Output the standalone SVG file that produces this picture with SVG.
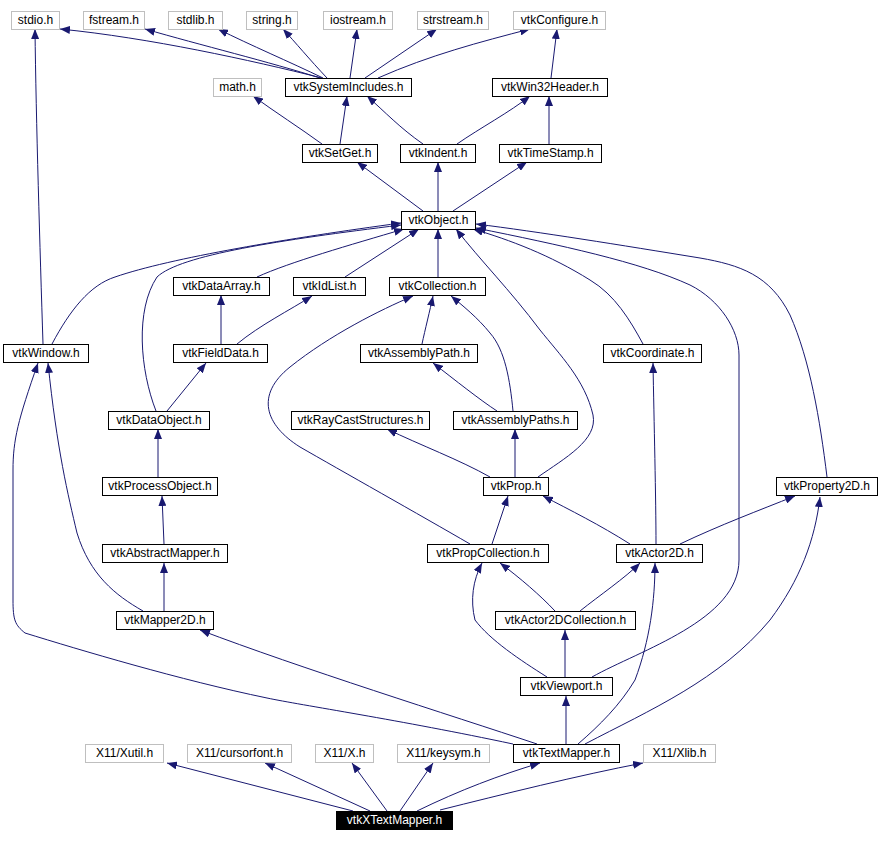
<svg xmlns="http://www.w3.org/2000/svg" width="880" height="842" viewBox="0 0 880 842">
<style>
.n rect{fill:#fff;stroke:#000;stroke-width:1}
.g rect{fill:#fff;stroke:#bfbfbf;stroke-width:1}
text{font-family:"Liberation Sans",Arial,sans-serif;font-size:12px;text-anchor:middle;fill:#000}
.e path{fill:none;stroke:#191970;stroke-width:1;marker-end:url(#a)}
#vtkXTextMapper rect{fill:#000;stroke:#000}
#vtkXTextMapper text{fill:#fff}
</style>
<defs>
<marker id="a" viewBox="0 0 10 8" refX="10" refY="4" markerWidth="10" markerHeight="8" markerUnits="userSpaceOnUse" orient="auto"><path d="M0,0 L10,4 L0,8 z" fill="#191970"/></marker>
</defs>
<rect width="880" height="842" fill="#fff"/>
<g class="e">
<path d="M322,78 C250,60 150,38 60,29"/>
<path d="M320,78 C270,62 200,45 145,29"/>
<path d="M323,78 C290,62 250,45 218,29"/>
<path d="M327,78 C310,60 295,42 283,29"/>
<path d="M350,78 L357,29"/>
<path d="M365,78 L437,29"/>
<path d="M378,78 C430,55 480,42 530,29"/>
<path d="M551,78 L557,29"/>
<path d="M43,344 C40,250 36,120 35,29"/>
<path d="M322,144 C300,128 275,112 253,96"/>
<path d="M340,144 L347,96"/>
<path d="M423,144 C400,128 385,112 367,96"/>
<path d="M457,144 C480,128 510,112 530,96"/>
<path d="M549,144 L549,96"/>
<path d="M423,211 L357,162"/>
<path d="M438,211 L438,162"/>
<path d="M453,211 L527,162"/>
<path d="M52,344 C70,310 90,285 115,277 C170,258 290,238 401,223"/>
<path d="M156,411 C140,370 135,310 157,277 C180,255 280,240 401,225"/>
<path d="M257,277 C290,262 350,245 404,229"/>
<path d="M345,277 L419,229"/>
<path d="M438,277 L438,229"/>
<path d="M538,477 C565,458 598,440 593,415 C585,380 560,355 540,330 C510,290 480,260 456,229"/>
<path d="M643,344 C630,320 615,295 590,280 C550,255 510,240 473,229"/>
<path d="M827,477 C820,420 810,360 790,315 C770,275 740,265 700,258 C620,245 540,232 476,224"/>
<path d="M592,677 C640,650 739,620 739,560 L739,355 C739,330 720,300 690,285 C640,262 560,245 476,228"/>
<path d="M221,344 L221,295"/>
<path d="M237,344 C260,325 290,310 312,296"/>
<path d="M167,411 L206,363"/>
<path d="M422,344 C425,330 430,310 433,296"/>
<path d="M513,411 C510,380 505,350 490,333 C478,318 462,305 451,296"/>
<path d="M497,411 C480,400 455,380 433,363"/>
<path d="M470,544 C420,515 340,470 300,447 C265,425 255,395 290,367 C330,335 380,310 413,296"/>
<path d="M490,477 C460,460 420,445 387,429"/>
<path d="M515,477 L515,429"/>
<path d="M158,477 L158,429"/>
<path d="M164,544 L162,496"/>
<path d="M164,611 L164,563"/>
<path d="M143,611 C115,595 90,575 77,533 C68,495 57,450 48,363"/>
<path d="M513,744 C400,720 300,705 267,698 C180,680 80,650 25,633 C15,625 13,620 13,600 L13,470 C13,440 18,420 38,363"/>
<path d="M537,744 C450,715 300,668 200,630"/>
<path d="M492,544 L508,496"/>
<path d="M630,544 C600,525 570,510 543,496"/>
<path d="M656,544 C656,500 654,420 653,363"/>
<path d="M680,544 C720,525 760,510 795,496"/>
<path d="M555,611 C540,595 520,578 500,563"/>
<path d="M580,611 C600,595 625,578 640,563"/>
<path d="M547,677 C520,660 490,640 475,620 C470,600 473,580 482,563"/>
<path d="M565,677 L565,630"/>
<path d="M566,744 L566,696"/>
<path d="M578,744 C600,725 620,705 635,680 C650,640 655,600 655,563"/>
<path d="M585,744 C650,710 720,680 770,620 C800,580 815,540 820,497"/>
<path d="M353,811 L167,763"/>
<path d="M370,811 L265,763"/>
<path d="M387,811 L352,763"/>
<path d="M400,811 L433,763"/>
<path d="M417,811 C460,790 500,775 540,763"/>
<path d="M440,810 C500,795 580,775 643,763"/>
</g>
<g id="stdio" class="g"><rect x="11.5" y="11.5" width="48" height="18"/><text x="35.5" y="24">stdio.h</text></g>
<g id="fstream" class="g"><rect x="83.5" y="11.5" width="61" height="18"/><text x="114" y="24">fstream.h</text></g>
<g id="stdlib" class="g"><rect x="168.5" y="11.5" width="54" height="18"/><text x="195.5" y="24">stdlib.h</text></g>
<g id="string" class="g"><rect x="246.5" y="11.5" width="51" height="18"/><text x="272" y="24">string.h</text></g>
<g id="iostream" class="g"><rect x="323.5" y="11.5" width="69" height="18"/><text x="358" y="24">iostream.h</text></g>
<g id="strstream" class="g"><rect x="417.5" y="11.5" width="71" height="18"/><text x="453" y="24">strstream.h</text></g>
<g id="vtkConfigure" class="g"><rect x="513.5" y="11.5" width="92" height="18"/><text x="559.5" y="24">vtkConfigure.h</text></g>
<g id="math" class="g"><rect x="213.5" y="78.5" width="48" height="18"/><text x="237.5" y="91">math.h</text></g>
<g id="vtkSystemIncludes" class="n"><rect x="285.5" y="78.5" width="126" height="18"/><text x="348.5" y="91">vtkSystemIncludes.h</text></g>
<g id="vtkWin32Header" class="n"><rect x="492.5" y="78.5" width="115" height="18"/><text x="550" y="91">vtkWin32Header.h</text></g>
<g id="vtkSetGet" class="n"><rect x="302.5" y="144.5" width="75" height="18"/><text x="340" y="157">vtkSetGet.h</text></g>
<g id="vtkIndent" class="n"><rect x="400.5" y="144.5" width="75" height="18"/><text x="438" y="157">vtkIndent.h</text></g>
<g id="vtkTimeStamp" class="n"><rect x="499.5" y="144.5" width="102" height="18"/><text x="550.5" y="157">vtkTimeStamp.h</text></g>
<g id="vtkObject" class="n"><rect x="401.5" y="211.5" width="74" height="18"/><text x="438.5" y="224">vtkObject.h</text></g>
<g id="vtkDataArray" class="n"><rect x="173.5" y="277.5" width="96" height="18"/><text x="221.5" y="290">vtkDataArray.h</text></g>
<g id="vtkIdList" class="n"><rect x="293.5" y="277.5" width="72" height="18"/><text x="329.5" y="290">vtkIdList.h</text></g>
<g id="vtkCollection" class="n"><rect x="389.5" y="277.5" width="96" height="18"/><text x="437.5" y="290">vtkCollection.h</text></g>
<g id="vtkWindow" class="n"><rect x="3.5" y="344.5" width="85" height="18"/><text x="46" y="357">vtkWindow.h</text></g>
<g id="vtkFieldData" class="n"><rect x="173.5" y="344.5" width="94" height="18"/><text x="220.5" y="357">vtkFieldData.h</text></g>
<g id="vtkAssemblyPath" class="n"><rect x="360.5" y="344.5" width="117" height="18"/><text x="419" y="357">vtkAssemblyPath.h</text></g>
<g id="vtkCoordinate" class="n"><rect x="603.5" y="344.5" width="98" height="18"/><text x="652.5" y="357">vtkCoordinate.h</text></g>
<g id="vtkDataObject" class="n"><rect x="108.5" y="411.5" width="101" height="18"/><text x="159" y="424">vtkDataObject.h</text></g>
<g id="vtkRayCastStructures" class="n"><rect x="291.5" y="411.5" width="138" height="18"/><text x="360.5" y="424">vtkRayCastStructures.h</text></g>
<g id="vtkAssemblyPaths" class="n"><rect x="453.5" y="411.5" width="124" height="18"/><text x="515.5" y="424">vtkAssemblyPaths.h</text></g>
<g id="vtkProcessObject" class="n"><rect x="102.5" y="477.5" width="115" height="18"/><text x="160" y="490">vtkProcessObject.h</text></g>
<g id="vtkProp" class="n"><rect x="483.5" y="477.5" width="65" height="18"/><text x="516" y="490">vtkProp.h</text></g>
<g id="vtkProperty2D" class="n"><rect x="776.5" y="477.5" width="101" height="18"/><text x="827" y="490">vtkProperty2D.h</text></g>
<g id="vtkAbstractMapper" class="n"><rect x="102.5" y="544.5" width="125" height="18"/><text x="165" y="557">vtkAbstractMapper.h</text></g>
<g id="vtkPropCollection" class="n"><rect x="427.5" y="544.5" width="121" height="18"/><text x="488" y="557">vtkPropCollection.h</text></g>
<g id="vtkActor2D" class="n"><rect x="616.5" y="544.5" width="86" height="18"/><text x="659.5" y="557">vtkActor2D.h</text></g>
<g id="vtkMapper2D" class="n"><rect x="116.5" y="611.5" width="97" height="18"/><text x="165" y="624">vtkMapper2D.h</text></g>
<g id="vtkActor2DCollection" class="n"><rect x="495.5" y="611.5" width="140" height="18"/><text x="565.5" y="624">vtkActor2DCollection.h</text></g>
<g id="vtkViewport" class="n"><rect x="520.5" y="677.5" width="92" height="18"/><text x="566.5" y="690">vtkViewport.h</text></g>
<g id="X11_Xutil" class="g"><rect x="85.5" y="744.5" width="78" height="18"/><text x="124.5" y="757">X11/Xutil.h</text></g>
<g id="X11_cursorfont" class="g"><rect x="187.5" y="744.5" width="104" height="18"/><text x="239.5" y="757">X11/cursorfont.h</text></g>
<g id="X11_X" class="g"><rect x="315.5" y="744.5" width="58" height="18"/><text x="344.5" y="757">X11/X.h</text></g>
<g id="X11_keysym" class="g"><rect x="397.5" y="744.5" width="92" height="18"/><text x="443.5" y="757">X11/keysym.h</text></g>
<g id="vtkTextMapper" class="n"><rect x="513.5" y="744.5" width="106" height="18"/><text x="566.5" y="757">vtkTextMapper.h</text></g>
<g id="X11_Xlib" class="g"><rect x="643.5" y="744.5" width="72" height="18"/><text x="679.5" y="757">X11/Xlib.h</text></g>
<g id="vtkXTextMapper"><rect x="336.5" y="811.5" width="116" height="18"/><text x="394.5" y="824">vtkXTextMapper.h</text></g>
</svg>
